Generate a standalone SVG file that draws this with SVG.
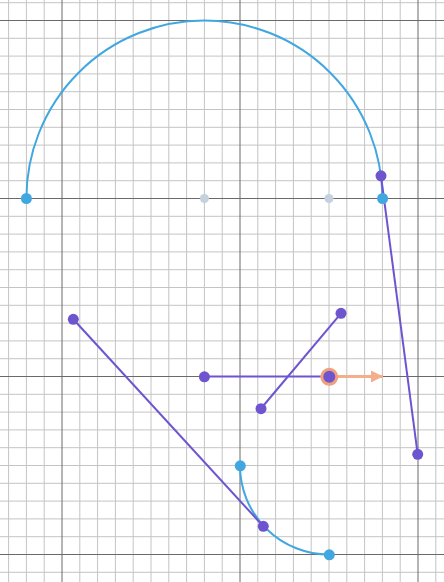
<svg xmlns="http://www.w3.org/2000/svg" width="444" height="582" viewBox="0 0 444 582">
<style>
.minor{stroke:#c4c4c4;stroke-width:1;fill:none}
.major{stroke:#6a6a6a;stroke-width:1;fill:none}
.purple{stroke:#6e55cf;stroke-width:2;fill:none}
.blue{stroke:#41a7e0;stroke-width:2;fill:none}
.pdot{fill:#6e55cf}
.bdot{fill:#41a7e0}
.gdot{fill:#c5d1de}
</style>
<defs>
<marker id="ah" viewBox="0 0 12 12" refX="12" refY="6" markerWidth="12" markerHeight="12" markerUnits="userSpaceOnUse" orient="auto">
<path d="M0,0 L12,6 L0,12 Z" fill="#f3ae8c"/>
</marker>
</defs>
<rect width="444" height="582" fill="#ffffff"/>
<g id="grid">
<path class="minor" d="M8.6,0V582M26.4,0V582M44.2,0V582M79.8,0V582M97.6,0V582M115.4,0V582M133.2,0V582M151,0V582M168.8,0V582M186.6,0V582M204.4,0V582M222.2,0V582M257.8,0V582M275.6,0V582M293.4,0V582M311.2,0V582M329,0V582M346.8,0V582M364.6,0V582M382.4,0V582M400.2,0V582M435.8,0V582"/>
<path class="minor" d="M0,2.7H444M0,38.3H444M0,56.1H444M0,73.9H444M0,91.7H444M0,109.5H444M0,127.3H444M0,145.1H444M0,162.9H444M0,180.7H444M0,216.3H444M0,234.1H444M0,251.9H444M0,269.7H444M0,287.5H444M0,305.3H444M0,323.1H444M0,340.9H444M0,358.7H444M0,394.3H444M0,412.1H444M0,429.9H444M0,447.7H444M0,465.5H444M0,483.3H444M0,501.1H444M0,518.9H444M0,536.7H444M0,572.3H444"/>
<path class="major" d="M62,0V582M240,0V582M418,0V582M0,20.5H444M0,198.5H444M0,376.5H444M0,554.5H444"/>
</g>
<g id="connectors">
<path id="bigArc" class="blue" d="M26.4,198.5 A178,178 0 0 1 382.4,198.5"/>
<path id="smallArc" class="blue" d="M240,465.5 A89,89 0 0 0 329,554.5"/>
<line class="purple" x1="381" y1="176" x2="417.7" y2="454.3"/>
<line class="purple" x1="73.3" y1="319.3" x2="263.3" y2="526.3"/>
<line class="purple" x1="204.4" y1="376.5" x2="329" y2="376.5"/>
<line class="purple" x1="341" y1="313.3" x2="261" y2="408.5"/>
<line id="vector" x1="337" y1="376.5" x2="383" y2="376.5" stroke="#f3ae8c" stroke-width="3" marker-end="url(#ah)"/>
</g>
<g id="p-gray1"><circle class="gdot" cx="204.4" cy="198.5" r="4.5"/></g>
<g id="p-gray2"><circle class="gdot" cx="329" cy="198.5" r="4.5"/></g>
<g id="p-blue-left"><circle class="bdot" cx="26.4" cy="198.5" r="5.5"/></g>
<g id="p-blue-right"><circle class="bdot" cx="382.6" cy="198.5" r="5.5"/></g>
<g id="p-arc"><circle class="pdot" cx="381" cy="175.8" r="5.5"/></g>
<g id="p-right"><circle class="pdot" cx="417.7" cy="454.3" r="5.5"/></g>
<g id="p-left"><circle class="pdot" cx="73.3" cy="319.3" r="5.5"/></g>
<g id="p-mid"><circle class="pdot" cx="204.4" cy="376.8" r="5.5"/></g>
<g id="p-upper"><circle class="pdot" cx="341" cy="313.3" r="5.5"/></g>
<g id="p-lower"><circle class="pdot" cx="261" cy="408.7" r="5.5"/></g>
<g id="p-blue-top"><circle class="bdot" cx="240.3" cy="465.8" r="5.5"/></g>
<g id="p-blue-bottom"><circle class="bdot" cx="329.3" cy="554.8" r="5.5"/></g>
<g id="p-onArc"><circle class="pdot" cx="263.3" cy="526.3" r="5.5"/></g>
<g id="p-origin"><circle cx="329.3" cy="376.8" r="7.5" fill="#6e55cf" stroke="#f0a07c" stroke-width="3"/></g>
</svg>
